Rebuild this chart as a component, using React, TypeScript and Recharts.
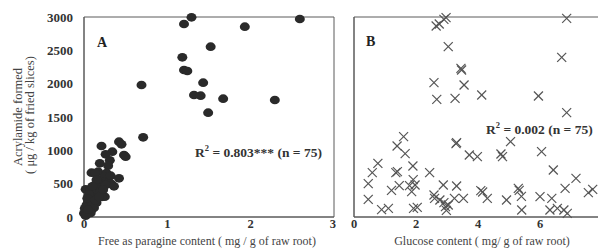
import { ReferenceArea, Scatter, ScatterChart, XAxis, YAxis } from "recharts";

// Panel A: free asparagine (mg/g) vs acrylamide (µg/kg)
const asparagine = [
  1.2, 1.29, 2.59, 1.93, 1.52, 1.18, 1.2, 1.24, 1.43, 0.69, 1.32, 1.4, 1.67, 2.29, 1.49, 0.71,
  0.42, 0.45, 0.21, 0.34, 0.26, 0.48, 0.5, 0.31, 0.19, 0.29, 0.17, 0.09, 0.13, 0.27, 0.42, 0.02,
  0.13, 0.23, 0.33, 0.17, 0.09, 0.25, 0.05, 0.15, 0.01, 0.09, 0.0, 0.04, 0.06, 0.03, 0.07, 0.1,
  0.12, 0.14, 0.11, 0.08, 0.16, 0.18, 0.2, 0.22, 0.19, 0.24, 0.28, 0.3, 0.26, 0.21, 0.06, 0.04,
  0.12, 0.08, 0.02, 0.15, 0.1, 0.36, 0.32, 0.14, 0.05, 0.18, 0.23,
];
const acrylamideA = [
  2895, 2995, 2970, 2855, 2555, 2395, 2205, 2190, 2015, 1980, 1830, 1820, 1775, 1755, 1565, 1195,
  1130, 1090, 1065, 980, 940, 930, 905, 850, 805, 770, 680, 665, 660, 660, 580, 415,
  480, 455, 495, 355, 330, 305, 230, 215, 130, 105, 55, 80, 150, 180, 260, 200,
  280, 320, 380, 420, 400, 450, 380, 520, 560, 600, 560, 520, 480, 300, 340, 280,
  140, 60, 20, 560, 460, 460, 620, 250, 110, 300, 410,
];

// Panel B: glucose (mg/g) vs acrylamide (µg/kg)
const glucose = [
  2.65, 2.75, 2.9, 2.97, 3.04, 3.47, 3.45, 2.58, 3.55, 2.67, 3.26, 4.12, 5.95, 6.86, 6.7, 6.86,
  3.29, 3.31, 3.72, 3.98, 4.74, 4.79, 5.05, 6.05, 6.43, 7.16, 6.81, 7.56, 7.7, 1.6, 1.39, 1.65,
  0.77, 0.59, 1.35, 1.4, 1.9, 2.44, 0.46, 0.46, 0.89, 1.11, 1.21, 1.46, 1.79, 1.91, 1.97, 1.86,
  1.92, 2.04, 2.58, 2.6, 2.88, 2.77, 2.9, 2.95, 3.04, 2.98, 3.24, 3.31, 3.53, 4.09, 4.15, 4.3,
  4.92, 5.3, 5.33, 5.4, 5.41, 6.0, 6.38, 6.32, 6.56, 6.77, 6.88,
];
const acrylamideB = [
  2865, 2895, 2965, 2990, 2555, 2205, 2230, 2015, 1980, 1765, 1780, 1830, 1815, 2980, 2395, 1565,
  1100, 1115, 930, 905, 945, 905, 1130, 980, 705, 580, 430, 365, 415, 1205, 1065, 950,
  805, 665, 665, 680, 765, 665, 500, 265, 110, 130, 400, 470, 470, 560, 480, 380,
  130, 145, 330, 280, 480, 255, 215, 155, 180, 100, 280, 465, 280, 395, 375, 280,
  255, 430, 400, 310, 105, 305, 280, 105, 130, 105, 55,
];

const yTicks = [0, 500, 1000, 1500, 2000, 2500, 3000];
const xTicksA = [0, 1, 2, 3];
const xTicksB = [0, 2, 4, 6];

const dataA = asparagine.map((x, i) => ({ x, y: acrylamideA[i] }));
const dataB = glucose.map((x, i) => ({ x, y: acrylamideB[i] }));

const SERIF = "'Liberation Serif', 'DejaVu Serif', serif";
const AXIS = "#5a5a5a";
const tickStyle = { fontSize: 13, fontWeight: 700, fill: "#333", fontFamily: SERIF };
const xTickStyle = { ...tickStyle, fontSize: 12.5 };

const Dot = (p: any) => <ellipse cx={p.cx} cy={p.cy} rx={5} ry={4.3} fill="#2a2a2a" />;

const Cross = (p: any) => {
  const s = 4.5;
  return (
    <g stroke="#555" strokeWidth={1.2}>
      <line x1={p.cx - s} y1={p.cy - s} x2={p.cx + s} y2={p.cy + s} />
      <line x1={p.cx - s} y1={p.cy + s} x2={p.cx + s} y2={p.cy - s} />
    </g>
  );
};

export default function App() {
  return (
    <div
      style={{
        position: "absolute",
        left: 0,
        top: 0,
        width: 598,
        height: 249,
        overflow: "hidden",
        background: "#fff",
      }}
    >
      <div style={{ position: "absolute", left: 0, top: 0 }}>
        <ScatterChart width={336} height={249} margin={{ top: 17, right: 2, bottom: 0, left: 0 }}>
          <XAxis
            type="number"
            dataKey="x"
            domain={[0, 3]}
            ticks={xTicksA}
            height={32}
            tickLine={false}
            tickSize={2}
            tickMargin={0}
            tick={xTickStyle}
            axisLine={{ stroke: AXIS }}
          />
          <YAxis
            type="number"
            dataKey="y"
            domain={[0, 3000]}
            ticks={yTicks}
            width={84}
            tickLine={false}
            tickMargin={5}
            tick={tickStyle}
            axisLine={{ stroke: AXIS }}
          />
          <ReferenceArea x1={0} x2={3} y1={0} y2={3000} fill="none" stroke={AXIS} />
          <Scatter data={dataA} shape={Dot} isAnimationActive={false} />
        </ScatterChart>
      </div>
      <div style={{ position: "absolute", left: 320, top: 0 }}>
        <ScatterChart width={282} height={249} margin={{ top: 17, right: 0, bottom: 0, left: 0 }}>
          <XAxis
            type="number"
            dataKey="x"
            domain={[0, 8]}
            ticks={xTicksB}
            height={32}
            tickLine={false}
            tickSize={2}
            tickMargin={0}
            tick={xTickStyle}
            axisLine={{ stroke: AXIS }}
          />
          <YAxis
            type="number"
            dataKey="y"
            domain={[0, 3000]}
            ticks={yTicks}
            width={34}
            tickLine={false}
            tick={false}
            axisLine={{ stroke: AXIS }}
          />
          <ReferenceArea x1={0} x2={8} y1={0} y2={3000} fill="none" stroke={AXIS} />
          <Scatter data={dataB} shape={Cross} isAnimationActive={false} />
        </ScatterChart>
      </div>
      <svg
        width={598}
        height={249}
        style={{ position: "absolute", left: 0, top: 0, pointerEvents: "none" }}
        fontFamily={SERIF}
      >
        <text x={97} y={47} fontSize={14} fontWeight={700} fill="#222">A</text>
        <text x={195} y={157} fontSize={13.5} fontWeight={700} fill="#333">
          R<tspan dy={-6} fontSize={8.5}>2</tspan>
          <tspan dy={6}> = 0.803*** (n = 75)</tspan>
        </text>
        <text x={366} y={46} fontSize={14} fontWeight={700} fill="#222">B</text>
        <text x={486} y={134} fontSize={13.5} fontWeight={700} fill="#333">
          R<tspan dy={-6} fontSize={8.5}>2</tspan>
          <tspan dy={6}> = 0.002 (n = 75)</tspan>
        </text>
        <text x={207} y={245} fontSize={12} fill="#444" textAnchor="middle">
          Free as paragine content ( mg / g of raw root)
        </text>
        <text x={482} y={245} fontSize={12} fill="#444" textAnchor="middle">
          Glucose content ( mg/ g of raw root)
        </text>
        <text transform="translate(22,117) rotate(-90)" fontSize={12.5} fill="#444" textAnchor="middle">
          Acrylamide formed
        </text>
        <text transform="translate(34,115) rotate(-90)" fontSize={12.5} fill="#444" textAnchor="middle">
          ( μg / kg of fried slices)
        </text>
      </svg>
    </div>
  );
}
